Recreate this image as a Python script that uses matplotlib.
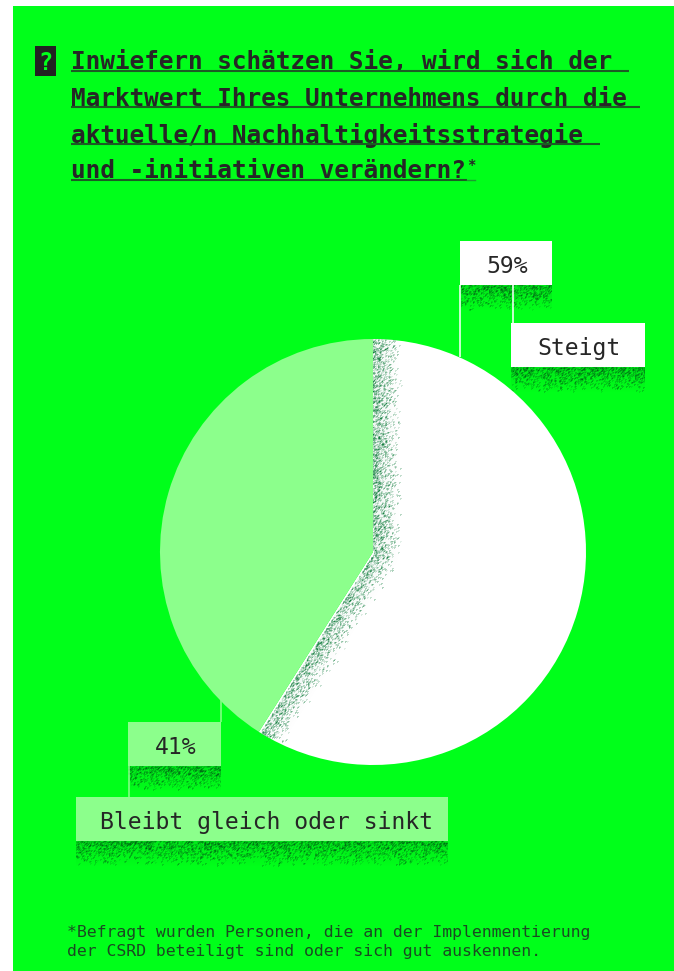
import numpy as np
import matplotlib
matplotlib.use("Agg")
import matplotlib.pyplot as plt
from matplotlib.patches import Rectangle

W, H = 674, 971
GREEN = "#00ff1a"
LIGHT = "#8cff8c"
WHITE = "#ffffff"
INK = "#262626"
SPECK = (0.08, 0.5, 0.25)
SHADOW = (0.0, 0.42, 0.08)

shares = [59, 41]
answers = ["Steigt", "Bleibt gleich oder sinkt"]
slice_colors = [WHITE, LIGHT]

title_lines = [
    "Inwiefern schätzen Sie, wird sich der",
    "Marktwert Ihres Unternehmens durch die",
    "aktuelle/n Nachhaltigkeitsstrategie",
    "und -initiativen verändern?",
]
footnote_lines = [
    "*Befragt wurden Personen, die an der Implenmentierung",
    "der CSRD beteiligt sind oder sich gut auskennen.",
]

rng = np.random.default_rng(7)
mono = "DejaVu Sans Mono"


def soften(a):
    # small box average so the specks are not hard single pixels
    b = a.copy()
    b[1:, :] += a[:-1, :]
    b[:, 1:] += a[:, :-1]
    return b / 3


def speck_image(density, color, haze=0.12):
    # specks get rarer as density falls, with a faint haze underneath
    on = rng.random(density.shape) < density
    alpha = soften(on * (0.3 + 0.7 * rng.random(density.shape)))
    img = np.zeros(density.shape + (4,))
    img[..., :3] = color
    img[..., 3] = np.clip(alpha * 1.1 + haze * density, 0, 1)
    return img


def ray_distance(px, py, ux, uy):
    t = np.clip(px * ux + py * uy, 0, None)
    return np.hypot(px - t * ux, py - t * uy)


fig = plt.figure(figsize=(W / 100, H / 100), dpi=100, facecolor="white")

page = fig.add_axes([0, 0, 1, 1])
page.set_xlim(0, W)
page.set_ylim(H, 0)
page.axis("off")
page.add_patch(Rectangle((13, 6), W - 13, H - 6, color=GREEN, lw=0, zorder=0))

# question mark tag
page.add_patch(Rectangle((35, 46), 21, 30, color="#222222", lw=0, zorder=1))
page.text(45.5, 60, "?", color=GREEN, fontsize=17, family=mono, weight="bold",
          ha="center", va="center_baseline", zorder=2)

# heading with underlines that run through the trailing space
title_y = [60, 97, 133, 169]
rule_y = [71, 107.5, 144, 180]
rule_end = [629, 640, 600, 467]
for line, y, ry, xe in zip(title_lines, title_y, rule_y, rule_end):
    page.text(71, y, line, color=INK, fontsize=17.6, family=mono, weight="bold",
              va="center_baseline", zorder=2)
    page.plot([71, xe], [ry, ry], color="#1c5c24", lw=1.5, solid_capstyle="butt", zorder=2)
page.text(467.5, 164, "*", color=INK, fontsize=10, family=mono, weight="bold",
          va="center_baseline", zorder=2)
page.plot([467, 475], [180, 180], color="#1c9c30", lw=1, zorder=2)

# pie
cx, cy, r = 373, 552, 213
ax = fig.add_axes([(cx - r) / W, 1 - (cy + r) / H, 2 * r / W, 2 * r / H])
wedges, _ = ax.pie(shares, colors=slice_colors, startangle=90, counterclock=False,
                   radius=1, wedgeprops={"linewidth": 0})

# grain along both straight edges of the large slice
n = 2 * r
xs = (np.arange(n) + 0.5) / r - 1
ys = 1 - (np.arange(n) + 0.5) / r
px, py = np.meshgrid(xs, ys)
main = wedges[0]
end = np.radians(main.theta1)
d_top = ray_distance(px, py, 0, 1) * r
d_low = ray_distance(px, py, np.cos(end), np.sin(end)) * r
dist = np.minimum(d_top, d_low)
density = 0.5 * np.clip(1.1 - dist / 27, 0, 1) ** 1.4
density[d_low < 1.5] = 0
im = ax.imshow(speck_image(density, SPECK), extent=(-1, 1, -1, 1), zorder=3,
               interpolation="nearest", aspect="auto")
im.set_clip_path(main)
ax.set_xlim(-1, 1)
ax.set_ylim(-1, 1)
ax.axis("off")

# leader lines
leaders = [
    (460, 285, 357, WHITE),
    (512.5, 285, 323, WHITE),
    (128.5, 766, 797, LIGHT),
    (220.5, 700, 722, LIGHT),
]
for x, y0, y1, c in leaders:
    page.plot([x, x], [y0, y1], color=c, lw=1.1, solid_capstyle="butt", zorder=5)

# label boxes: x0, x1, y0, y1, fill, text, text centre
boxes = [
    (460, 552, 241, 285, WHITE, f"{shares[0]}%", 507),
    (511, 645, 323, 367, WHITE, answers[0], 579),
    (128, 221, 722, 766, LIGHT, f"{shares[1]}%", 175.5),
    (76, 448, 797, 841, LIGHT, answers[1], 267),
]
for x0, x1, y0, y1, fill, label, tx in boxes:
    page.add_patch(Rectangle((x0, y0), x1 - x0, y1 - y0, color=fill, lw=0, zorder=4))
    page.text(tx, (y0 + y1) / 2 + 1, label, color=INK, fontsize=16.7, family=mono,
              ha="center", va="center_baseline", zorder=6)
    # speckled shadow below the box
    rows = 26
    fade = np.linspace(1, 0, rows)[:, None]
    shade = np.repeat(0.5 * fade, x1 - x0, axis=1)
    page.imshow(speck_image(shade, SHADOW, haze=0.3), extent=(x0, x1, y1 + rows, y1), zorder=3,
                interpolation="nearest", aspect="auto")
page.set_xlim(0, W)
page.set_ylim(H, 0)

# footnote
for line, y in zip(footnote_lines, [931, 950]):
    page.text(67, y, line, color="#1a4a22", fontsize=11.85, family=mono,
              va="center_baseline", zorder=2)

fig.savefig("out.png", dpi=100, facecolor="white")
